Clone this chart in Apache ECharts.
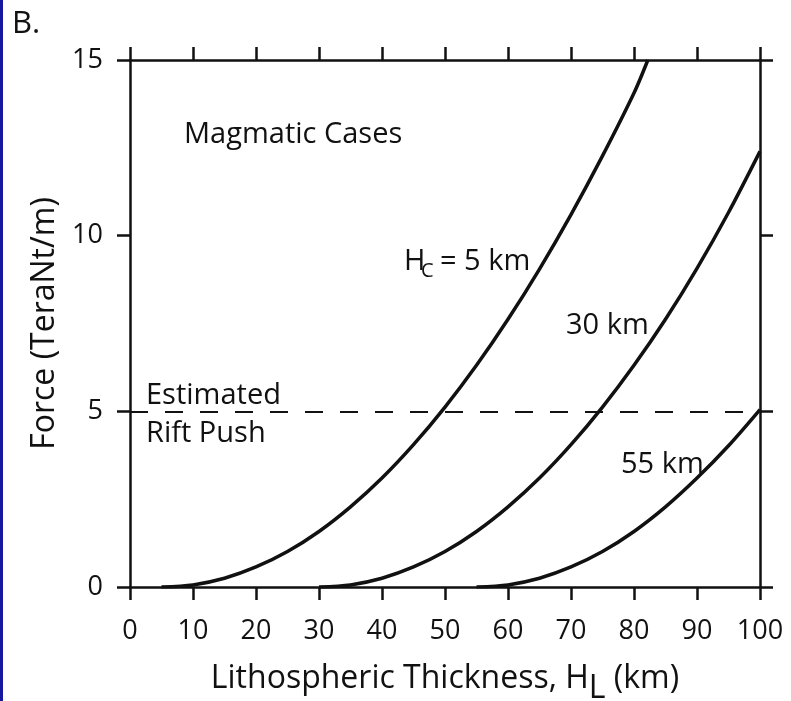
<!DOCTYPE html>
<html>
<head>
<meta charset="utf-8">
<script src="https://cdn.jsdelivr.net/npm/echarts@6/dist/echarts.min.js"></script>
<style>
  html, body { margin: 0; padding: 0; background: #ffffff; }
  #chart { width: 791px; height: 701px; }
</style>
</head>
<body>
<div id="chart"></div>
<script>
// Lithospheric thickness H_L (km) and driving force (TeraNt/m) for each crustal thickness H_C
const thickness5  = [5, 10, 15, 20, 25, 30, 35, 40, 45, 50, 55, 60, 65, 70, 75, 80, 82.2];
const force5      = [0, 0.06, 0.25, 0.57, 1.01, 1.58, 2.28, 3.1, 4.05, 5.12, 6.31, 7.62, 9.05, 10.6, 12.27, 14.06, 15];
const thickness30 = [30, 35, 40, 45, 50, 55, 60, 65, 70, 75, 80, 85, 90, 95, 100];
const force30     = [0, 0.06, 0.25, 0.57, 1.01, 1.58, 2.28, 3.1, 4.05, 5.12, 6.31, 7.62, 9.07, 10.66, 12.4];
const thickness55 = [55, 60, 65, 70, 75, 80, 85, 90, 95, 100];
const force55     = [0, 0.06, 0.25, 0.57, 1.01, 1.58, 2.28, 3.1, 4.02, 5.05];

// Estimated rift push (TeraNt/m)
const riftPush = 5;

// Axis ranges
const xRange = { min: 0, max: 100, step: 10 };
const yRange = { min: 0, max: 15, step: 5 };

const FONT = "'Open Sans', 'Noto Sans', sans-serif";
const INK = '#111111';

function pairs(xs, ys) {
  return xs.map((x, i) => [x, ys[i]]);
}

function curve(name, xs, ys) {
  return {
    name: name,
    type: 'line',
    xAxisIndex: 0,
    yAxisIndex: 0,
    data: pairs(xs, ys),
    showSymbol: false,
    smooth: 0.3,
    lineStyle: { color: INK, width: 3.5 },
    silent: true,
    z: 3
  };
}

const axisLineStyle = { color: INK, width: 2.5 };

function xAxisDef(position, showLabels) {
  return {
    type: 'value',
    position: position,
    min: xRange.min,
    max: xRange.max,
    interval: xRange.step,
    axisLine: { show: true, onZero: false, lineStyle: axisLineStyle },
    axisTick: { show: true, inside: false, length: 13, lineStyle: axisLineStyle },
    axisLabel: {
      show: showLabels,
      margin: 31,
      fontFamily: FONT,
      fontSize: 27,
      color: INK
    },
    splitLine: { show: false }
  };
}

function yAxisDef(position, showLabels) {
  return {
    type: 'value',
    position: position,
    min: yRange.min,
    max: yRange.max,
    interval: yRange.step,
    axisLine: { show: true, onZero: false, lineStyle: axisLineStyle },
    axisTick: { show: true, inside: false, length: 13, lineStyle: axisLineStyle },
    axisLabel: {
      show: showLabels,
      margin: 27,
      fontFamily: FONT,
      fontSize: 27,
      color: INK
    },
    splitLine: { show: false }
  };
}

const bottomX = xAxisDef('bottom', true);
bottomX.name = 'Lithospheric Thickness, {t|H}{sub|L}{t| (km)}';
bottomX.nameLocation = 'middle';
bottomX.nameGap = 66;
bottomX.nameTextStyle = {
  fontFamily: FONT,
  fontSize: 32,
  color: INK,
  rich: {
    t: { fontFamily: FONT, fontSize: 32, color: INK },
    sub: { fontFamily: FONT, fontSize: 32, color: INK, padding: [20, 0, 0, 0] }
  }
};

const leftY = yAxisDef('left', true);
leftY.name = 'Force (TeraNt/m)';
leftY.nameLocation = 'middle';
leftY.nameGap = 64;
leftY.nameTextStyle = { fontFamily: FONT, fontSize: 32, color: INK };

const textStyle = (size) => ({ fontFamily: FONT, fontSize: size, fill: INK, verticalAlign: 'middle', align: 'left' });

function label(text, x, y, size) {
  return { type: 'text', x: x, y: y, silent: true, z: 10, style: Object.assign({ text: text }, textStyle(size || 29)) };
}

const option = {
  backgroundColor: '#ffffff',
  animation: false,
  grid: { left: 130, right: 31, top: 60, bottom: 114, containLabel: false, outerBoundsMode: 'none' },
  xAxis: [bottomX, xAxisDef('top', false)],
  yAxis: [leftY, yAxisDef('right', false)],
  series: [
    curve('H_C = 5 km', thickness5, force5),
    curve('30 km', thickness30, force30),
    curve('55 km', thickness55, force55),
    {
      name: 'Estimated Rift Push',
      type: 'line',
      data: [],
      markLine: {
        silent: true,
        symbol: 'none',
        label: { show: false },
        lineStyle: { color: INK, width: 2.2, type: [18, 17] },
        data: [[{ coord: [xRange.min, riftPush] }, { coord: [xRange.max, riftPush] }]]
      }
    }
  ],
  graphic: [
    { type: 'rect', shape: { x: 0, y: 0, width: 3, height: 701 }, style: { fill: '#1616a0' }, silent: true },
    label('B.', 12, 24, 31),
    label('Magmatic Cases', 184, 135, 29),
    label('Estimated', 146, 396, 29),
    label('Rift Push', 146, 434, 29),
    label('H', 404, 262, 29),
    label('C', 421, 271, 20),
    label('= 5 km', 440, 262, 29),
    label('30 km', 566, 326, 29),
    label('55 km', 621, 465, 29)
  ]
};

const chart = echarts.init(document.getElementById('chart'), null, { renderer: 'canvas' });
chart.setOption(option);
</script>
</body>
</html>
